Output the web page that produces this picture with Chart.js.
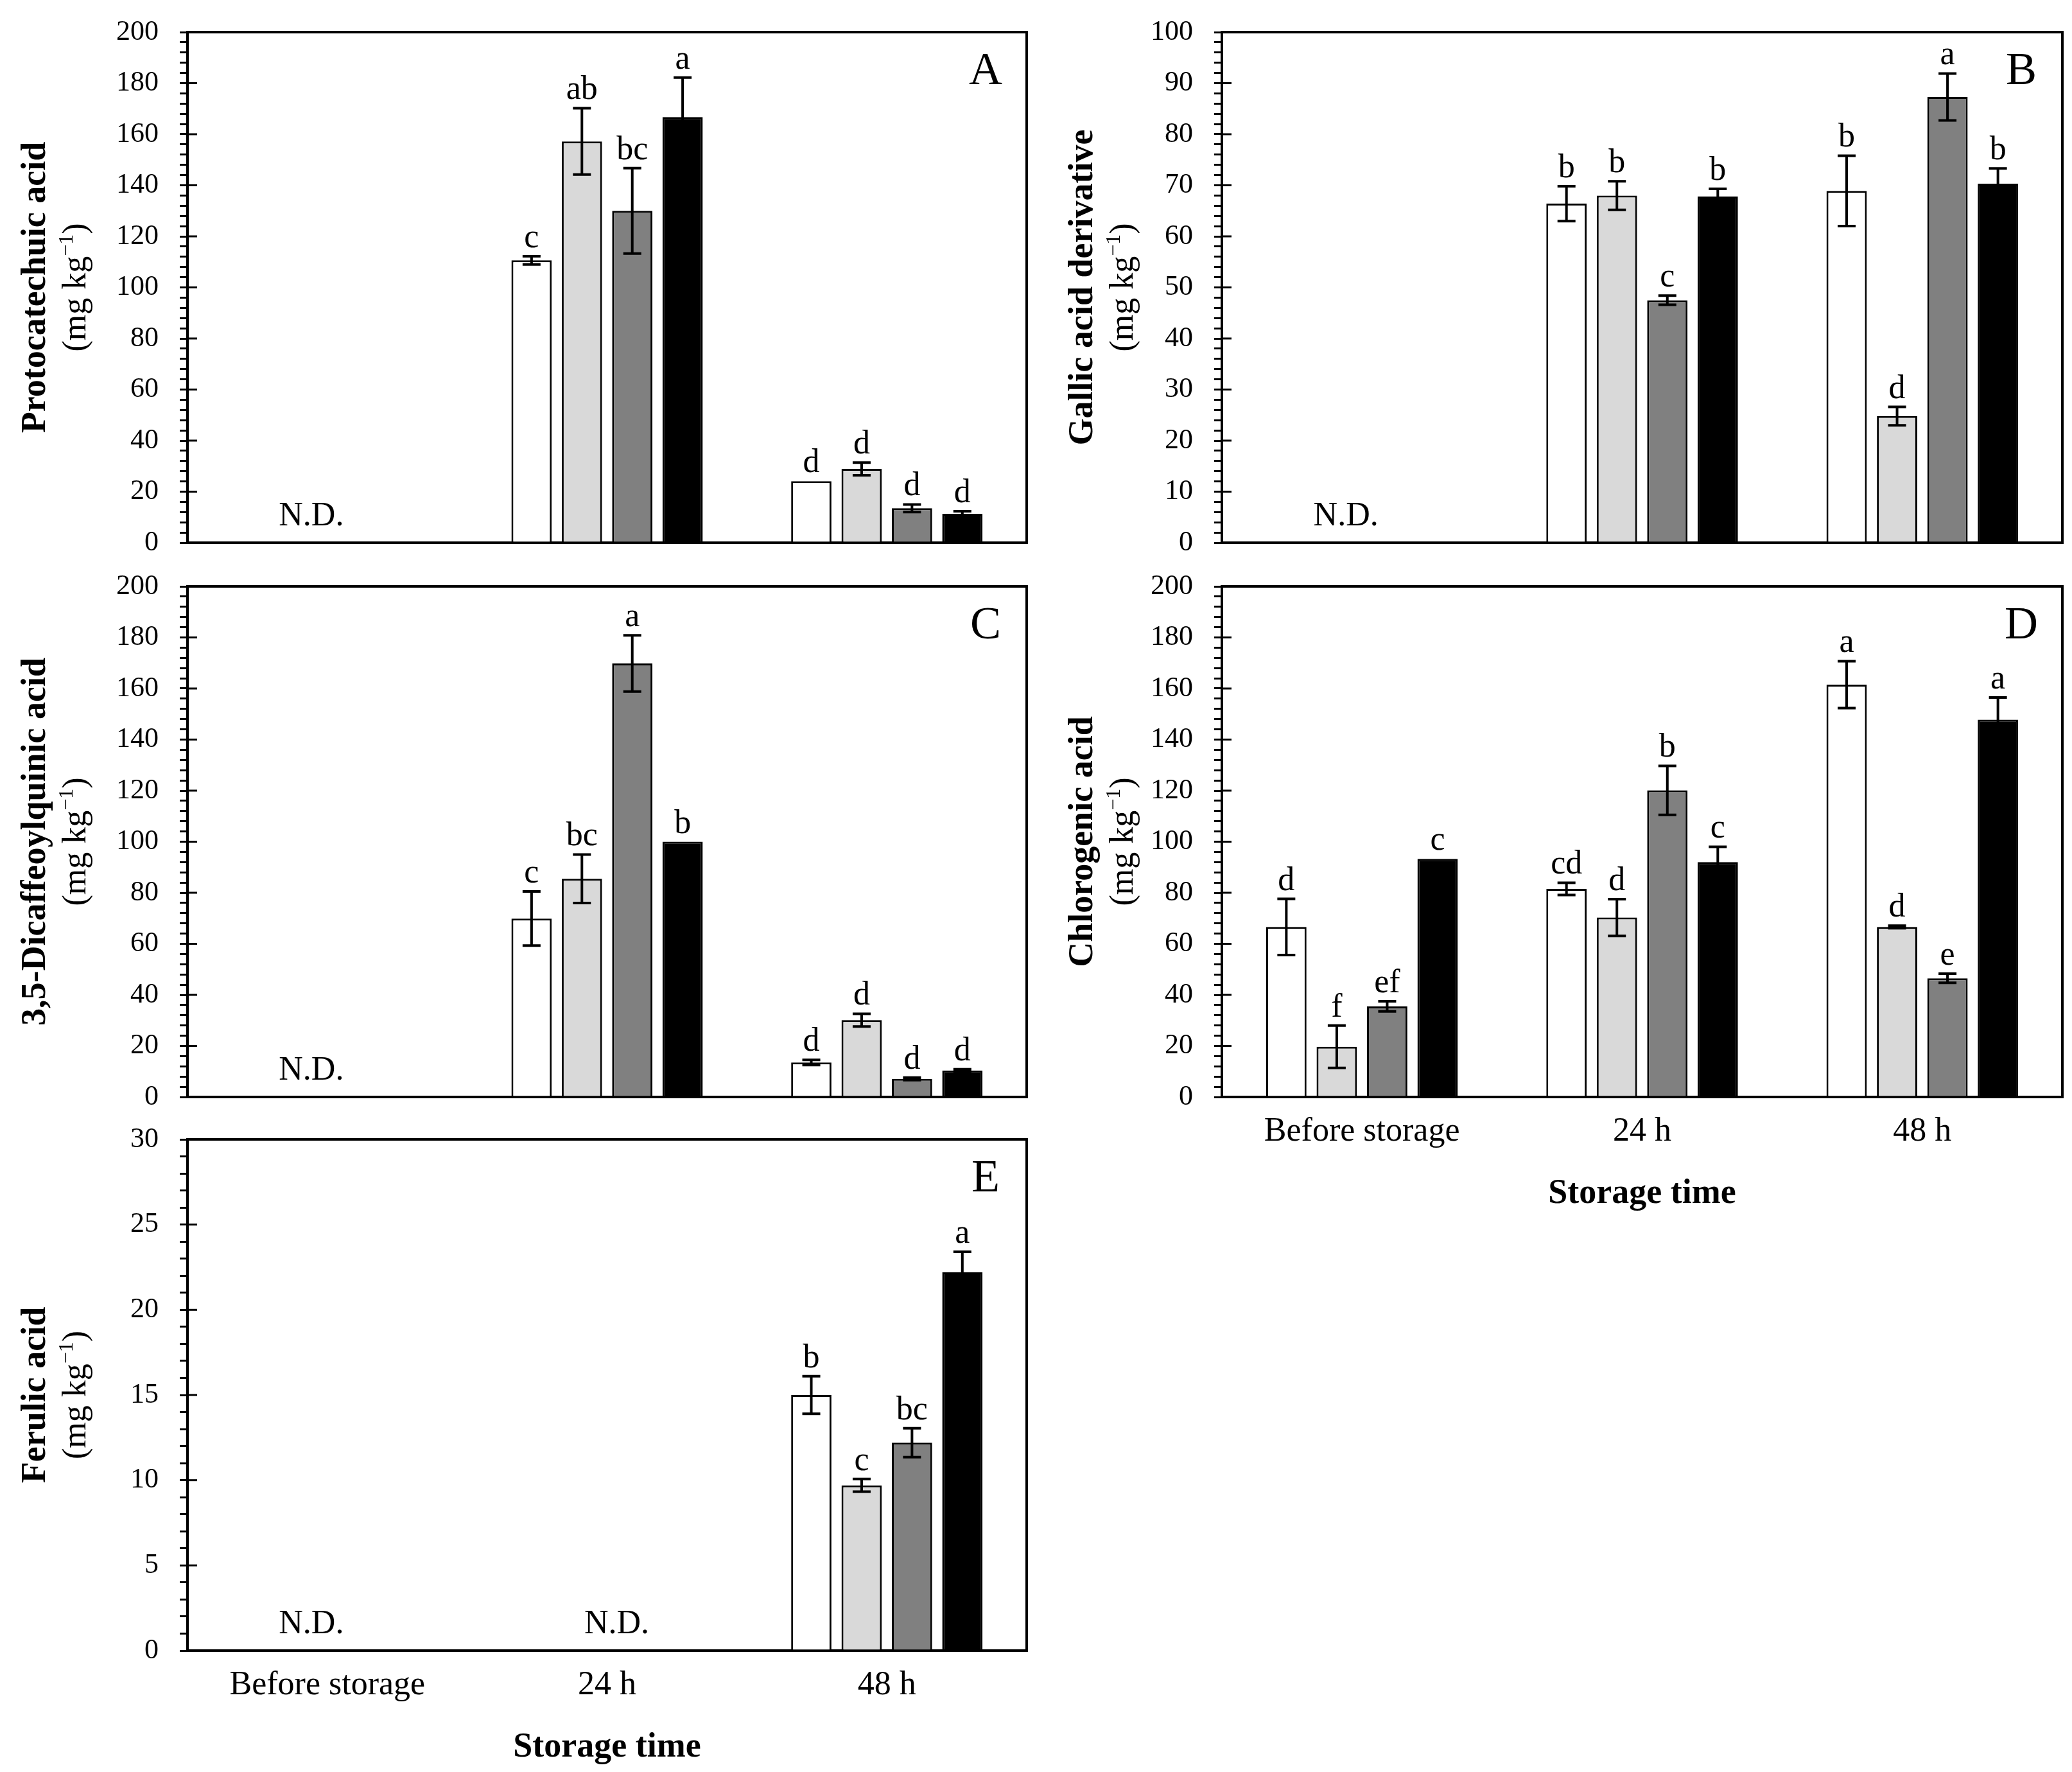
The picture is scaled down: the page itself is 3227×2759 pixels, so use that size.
<!DOCTYPE html>
<html>
<head>
<meta charset="utf-8">
<script src="https://cdn.jsdelivr.net/npm/chart.js@4.4.0/dist/chart.umd.min.js"></script>
<style>
  body { margin: 0; background: #fff; width: 3227px; height: 2759px; position: relative; overflow: hidden; }
  canvas { position: absolute; }
</style>
</head>
<body>
<canvas id="cA"></canvas>
<canvas id="cB"></canvas>
<canvas id="cC"></canvas>
<canvas id="cD"></canvas>
<canvas id="cE"></canvas>
<script>
const categories = ['Before storage', '24 h', '48 h'];
const treatments = ['T1', 'T2', 'T3', 'T4'];

// rows = treatments (white, light grey, dark grey, black), columns = categories
// null = not detected (N.D.)

// A: protocatechuic acid
const protoMeans = [
  [null, 110.6, 24.1],
  [null, 157.2, 28.9],
  [null, 130.0, 13.5],
  [null, 166.7, 11.3]
];
const protoErrs = [
  [null, 1.6, 0],
  [null, 13.0, 2.5],
  [null, 16.7, 1.5],
  [null, 15.5, 1.0]
];
const protoLetters = [
  ['', 'c', 'd'],
  ['', 'ab', 'd'],
  ['', 'bc', 'd'],
  ['', 'a', 'd']
];

// B: gallic acid derivative
const gallicMeans = [
  [null, 66.4, 68.9],
  [null, 68.0, 24.8],
  [null, 47.5, 87.3],
  [null, 67.8, 70.3]
];
const gallicErrs = [
  [null, 3.4, 6.9],
  [null, 2.8, 1.8],
  [null, 0.9, 4.6],
  [null, 1.5, 3.0]
];
const gallicLetters = [
  ['', 'b', 'b'],
  ['', 'b', 'd'],
  ['', 'c', 'a'],
  ['', 'b', 'b']
];

// C: 3,5-dicaffeoylquinic acid
const dcqaMeans = [
  [null, 69.9, 13.5],
  [null, 85.5, 30.1],
  [null, 169.8, 7.1],
  [null, 100.0, 10.4]
];
const dcqaErrs = [
  [null, 10.6, 1.0],
  [null, 9.5, 2.5],
  [null, 11.0, 0.5],
  [null, 0, 0.5]
];
const dcqaLetters = [
  ['', 'c', 'd'],
  ['', 'bc', 'd'],
  ['', 'a', 'd'],
  ['', 'b', 'd']
];

// D: chlorogenic acid
const chloroMeans = [
  [66.6, 81.5, 161.5],
  [19.7, 70.3, 66.6],
  [35.5, 120.1, 46.5],
  [93.3, 92.0, 147.8]
];
const chloroErrs = [
  [11.0, 2.4, 9.2],
  [8.3, 7.2, 0.5],
  [2.0, 9.6, 1.8],
  [0, 6.0, 8.7]
];
const chloroLetters = [
  ['d', 'cd', 'a'],
  ['f', 'd', 'd'],
  ['ef', 'b', 'e'],
  ['c', 'c', 'a']
];

// E: ferulic acid
const ferulicMeans = [
  [null, null, 15.0],
  [null, null, 9.7],
  [null, null, 12.2],
  [null, null, 22.2]
];
const ferulicErrs = [
  [null, null, 1.1],
  [null, null, 0.37],
  [null, null, 0.85],
  [null, null, 1.2]
];
const ferulicLetters = [
  ['', '', 'b'],
  ['', '', 'c'],
  ['', '', 'bc'],
  ['', '', 'a']
];

const FONT = '"Liberation Serif", "Times New Roman", serif';
const fills = ['#ffffff', '#d9d9d9', '#808080', '#000000'];
const ndShift = [-25, 15, 0];

// draws frame, inner major ticks, error bars, letters, titles
const decor = {
  id: 'decor',
  afterDraw(chart) {
    const o = chart.options.plugins.decor;
    const ctx = chart.ctx, a = chart.chartArea;
    const xs = chart.scales.x, ys = chart.scales.y;
    ctx.save();
    ctx.strokeStyle = '#000';
    ctx.fillStyle = '#000';

    // top + right frame
    ctx.lineWidth = 4;
    ctx.beginPath();
    ctx.moveTo(a.left - 2, a.top);
    ctx.lineTo(a.right, a.top);
    ctx.lineTo(a.right, a.bottom + 2);
    ctx.stroke();

    // major ticks cross the axis
    ctx.lineWidth = 3;
    ys.ticks.forEach(t => {
      if (Math.round(t.value * 100) % Math.round(o.major * 100) !== 0) return;
      const py = ys.getPixelForValue(t.value);
      ctx.beginPath();
      ctx.moveTo(a.left, py);
      ctx.lineTo(a.left + 15, py);
      ctx.stroke();
    });

    // error bars + significance letters
    ctx.font = '52px ' + FONT;
    ctx.textAlign = 'center';
    ctx.textBaseline = 'alphabetic';
    chart.data.datasets.forEach((ds, i) => {
      const meta = chart.getDatasetMeta(i);
      meta.data.forEach((bar, j) => {
        const v = ds.data[j];
        if (v == null) return;
        const e = ds.errors[j] || 0;
        const top = ys.getPixelForValue(v + e);
        if (e > 0) {
          const bot = ys.getPixelForValue(v - e);
          ctx.lineWidth = 4;
          ctx.beginPath();
          ctx.moveTo(bar.x, top); ctx.lineTo(bar.x, bot);
          ctx.moveTo(bar.x - 14, top); ctx.lineTo(bar.x + 14, top);
          ctx.moveTo(bar.x - 14, bot); ctx.lineTo(bar.x + 14, bot);
          ctx.stroke();
        }
        ctx.fillText(ds.letters[j], bar.x, top - 14);
      });
    });

    // N.D. where nothing was detected
    categories.forEach((c, i) => {
      const none = chart.data.datasets.every(ds => ds.data[i] == null);
      if (none) ctx.fillText('N.D.', xs.getPixelForValue(i) + ndShift[i], a.bottom - 27);
    });

    // panel tag
    ctx.font = '72px ' + FONT;
    ctx.fillText(o.tag, a.right - 64, a.top + 81);

    // x title
    if (o.xTitle) {
      ctx.font = 'bold 54px ' + FONT;
      ctx.fillText('Storage time', (a.left + a.right) / 2, a.bottom + 165);
    }

    // y title, two lines, rotated
    const midY = (a.top + a.bottom) / 2;
    ctx.save();
    ctx.translate(a.left - 222 + o.shift, midY);
    ctx.rotate(-Math.PI / 2);
    ctx.font = 'bold 54px ' + FONT;
    ctx.fillText(o.title, 0, 0);
    ctx.restore();

    ctx.save();
    ctx.translate(a.left - 159 + o.shift, midY);
    ctx.rotate(-Math.PI / 2);
    ctx.textAlign = 'left';
    ctx.font = '52px ' + FONT;
    const p1 = '(mg kg', p3 = ')', sup = '\u22121';
    const w1 = ctx.measureText(p1).width, w3 = ctx.measureText(p3).width;
    ctx.font = '32px ' + FONT;
    const w2 = ctx.measureText(sup).width;
    let sx = -(w1 + w2 + w3) / 2;
    ctx.font = '52px ' + FONT;
    ctx.fillText(p1, sx, 0); sx += w1;
    ctx.font = '32px ' + FONT;
    ctx.fillText(sup, sx, -20); sx += w2;
    ctx.font = '52px ' + FONT;
    ctx.fillText(p3, sx, 0);
    ctx.restore();

    ctx.restore();
  }
};

function makePanel(p) {
  const cv = document.getElementById(p.id);
  cv.width = p.box[2];
  cv.height = p.box[3];
  cv.style.left = p.box[0] + 'px';
  cv.style.top = p.box[1] + 'px';

  const datasets = p.means.map((m, k) => ({
    label: treatments[k],
    data: m,
    errors: p.errs[k],
    letters: p.letters[k],
    backgroundColor: fills[k],
    borderColor: '#000',
    borderWidth: 3,
    categoryPercentage: 0.72,
    barPercentage: 0.8
  }));

  new Chart(cv, {
    type: 'bar',
    data: { labels: categories, datasets: datasets },
    options: {
      responsive: false,
      animation: false,
      devicePixelRatio: 1,
      layout: { padding: { top: p.padTop, right: p.padRight, left: 0, bottom: 0 } },
      plugins: {
        legend: { display: false },
        tooltip: { enabled: false },
        decor: { major: p.major, tag: p.tag, title: p.title, xTitle: p.xLabels, shift: p.shift }
      },
      scales: {
        x: {
          offset: true,
          grid: { display: false, drawTicks: false },
          border: { display: true, width: 4, color: '#000' },
          ticks: {
            display: p.xLabels,
            color: '#000',
            padding: 23,
            maxRotation: 0,
            autoSkip: false,
            font: { family: FONT, size: 52 }
          },
          afterFit(s) { s.height = p.xh; }
        },
        y: {
          min: 0,
          max: p.yMax,
          grid: { drawOnChartArea: false, tickLength: 12, lineWidth: 3, color: '#000' },
          border: { width: 4, color: '#000' },
          ticks: {
            stepSize: p.major / 5,
            maxTicksLimit: 1000,
            autoSkip: false,
            padding: 33,
            color: '#000',
            font: { family: FONT, size: 44 },
            callback: v => (Math.round(v * 100) % Math.round(p.major * 100) === 0 ? v : '')
          },
          afterFit(s) { s.width = 292; }
        }
      }
    },
    plugins: [decor]
  });
}

// boxes: [left, top, width, height]; plot area = box top + padTop .. box bottom - xh
makePanel({ id: 'cA', box: [0, -30, 1611, 955], padTop: 80, padRight: 12, xh: 80,
  means: protoMeans, errs: protoErrs, letters: protoLetters, yMax: 200, major: 20,
  tag: 'A', title: 'Protocatechuic acid', xLabels: false, shift: 0 });
makePanel({ id: 'cB', box: [1611, -30, 1616, 955], padTop: 80, padRight: 15, xh: 80,
  means: gallicMeans, errs: gallicErrs, letters: gallicLetters, yMax: 100, major: 10,
  tag: 'B', title: 'Gallic acid derivative', xLabels: false, shift: 20 });
makePanel({ id: 'cC', box: [0, 833, 1611, 955], padTop: 80, padRight: 12, xh: 80,
  means: dcqaMeans, errs: dcqaErrs, letters: dcqaLetters, yMax: 200, major: 20,
  tag: 'C', title: '3,5-Dicaffeoylquinic acid', xLabels: false, shift: 0 });
makePanel({ id: 'cD', box: [1611, 833, 1616, 1057], padTop: 80, padRight: 15, xh: 182,
  means: chloroMeans, errs: chloroErrs, letters: chloroLetters, yMax: 200, major: 20,
  tag: 'D', title: 'Chlorogenic acid', xLabels: true, shift: 20 });
makePanel({ id: 'cE', box: [0, 1694, 1611, 1065], padTop: 80, padRight: 12, xh: 189,
  means: ferulicMeans, errs: ferulicErrs, letters: ferulicLetters, yMax: 30, major: 5,
  tag: 'E', title: 'Ferulic acid', xLabels: true, shift: 0 });
</script>
</body>
</html>
